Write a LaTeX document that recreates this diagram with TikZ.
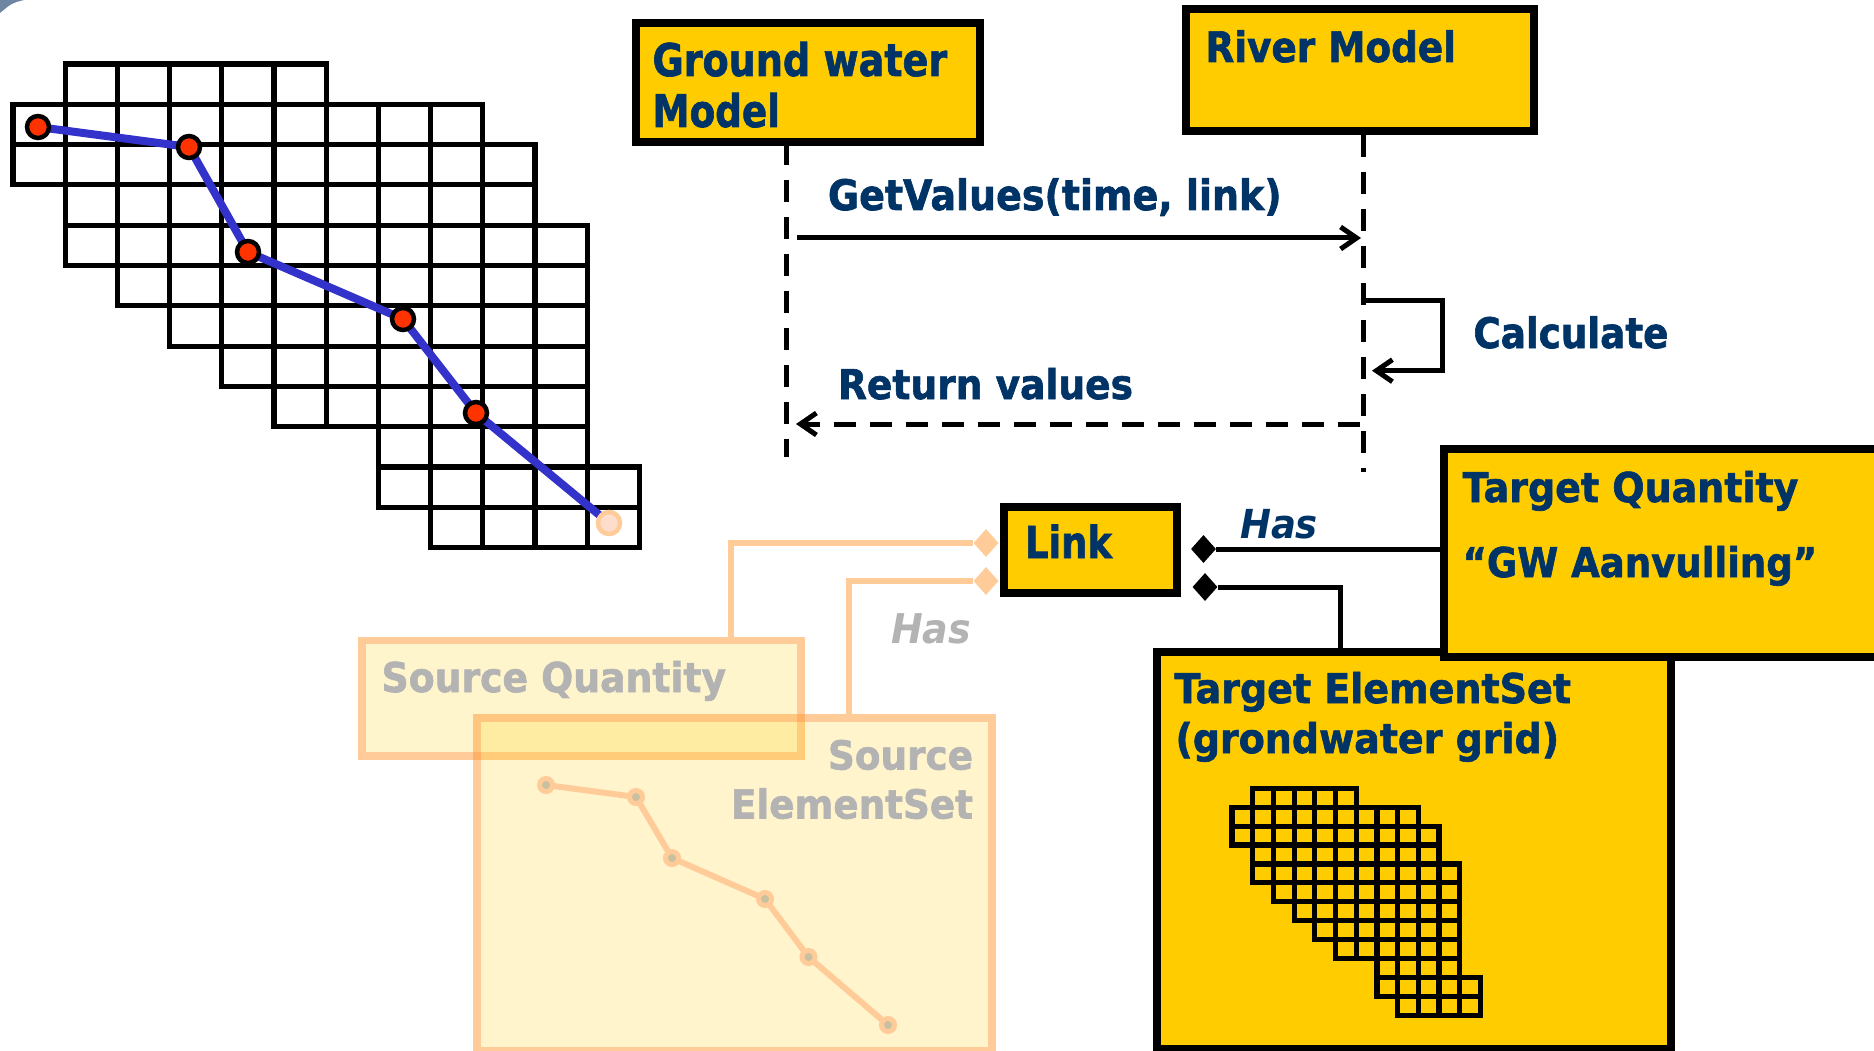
\documentclass[tikz,border=0pt]{standalone}
\usepackage{fontspec}
\setmainfont{DejaVu Sans}[BoldFeatures={FakeBold=1.6}]
\usepackage{graphicx}
\usetikzlibrary{shapes.geometric,arrows.meta,calc}
\definecolor{ybox}{HTML}{FFCC00}
\definecolor{navy}{HTML}{003366}
\definecolor{fadeor}{HTML}{FFCC99}
\definecolor{fadeorange}{HTML}{FF9933}
\definecolor{fadefill}{HTML}{FFF5CC}
\definecolor{fadetext}{HTML}{B3B3B3}
\definecolor{reddot}{HTML}{FF3300}
\definecolor{blueline}{HTML}{3333CC}
\definecolor{pinkdot}{HTML}{FFDDCC}
\definecolor{fadedot}{HTML}{C8C0A0}
\definecolor{smudge}{HTML}{6F86A3}
\newcommand{\fitw}[3]{\resizebox{#1pt}{\height}{\fontsize{#2pt}{#2pt}\selectfont\bfseries #3}}
\begin{document}
\begin{tikzpicture}[x=1pt,y=-1pt,
  box/.style={draw=black, line width=8pt, fill=ybox, inner sep=0pt, outer sep=0pt, anchor=north west, line join=miter},
  srcbox/.style={draw=fadeor, line width=7.5pt, fill=fadefill, inner sep=0pt, outer sep=0pt, anchor=north west},
  txt/.style={inner sep=0pt, outer sep=0pt, anchor=base west, text=navy},
  ftxt/.style={inner sep=0pt, outer sep=0pt, anchor=base west, text=fadetext},
  life/.style={line width=5pt, dash pattern=on 22pt off 15pt},
  msg/.style={line width=5pt, -{Straight Barb[length=16pt,width=22pt]}},
  conn/.style={line width=5pt, draw=black},
  fconn/.style={line width=6pt, draw=fadeor},
  bdia/.style={diamond, fill=black, inner sep=0pt, minimum width=25pt, minimum height=28pt},
  ldia/.style={diamond, fill=fadeor, inner sep=0pt, minimum width=25pt, minimum height=28pt},
  gridline/.style={draw=black, line width=5.2pt, line join=miter},
  sgridline/.style={draw=black, line width=5.2pt, line join=miter},
  rdot/.style={circle, draw=black, line width=4.5pt, fill=reddot, inner sep=0pt, minimum size=22pt},
  fdot/.style={circle, draw=fadeor, line width=5pt, fill=fadedot, inner sep=0pt, minimum size=13pt}
]
\clip (0,0) rectangle (1874,1051);
\fill[white] (0,0) rectangle (1874,1051);
\fill[smudge] (0,0) -- (24,0) .. controls (12,3) .. (0,13) -- cycle;

% ---------- big grid ----------
\foreach \r/\a/\b in {0/1/5,1/0/8,2/0/9,3/1/9,4/1/10,5/2/10,6/3/10,7/4/10,8/5/10,9/7/10,10/7/11,11/8/11}{
  \foreach \c in {\a,...,\b}{
    \draw[gridline] (13+\c*52.2, 64+\r*40.3) rectangle ++(52.2,40.3);
  }
}
\coordinate (p1) at (38,127);
\coordinate (p2) at (189,147);
\coordinate (p3) at (248,252);
\coordinate (p4) at (403,319);
\coordinate (p5) at (476,413);
\coordinate (p6) at (609,523);
\draw[blueline, line width=8pt] (p1) -- (p2) -- (p3) -- (p4) -- (p5) -- (p6);
\node[rdot] (d1) at (p1) {};
\node[rdot] (d2) at (p2) {};
\node[rdot] (d3) at (p3) {};
\node[rdot] (d4) at (p4) {};
\node[rdot] (d5) at (p5) {};
\node[rdot, draw=fadeor, fill=pinkdot] (d6) at (p6) {};

% ---------- faded source part ----------
\node[srcbox, minimum width=439pt, minimum height=115.5pt] (sq) at (362,640.5) {};
\node[inner sep=0pt, outer sep=0pt, anchor=north west, minimum width=515pt, minimum height=333pt] (se) at (477,718) {};
\fill[ybox, fill opacity=0.2] ($(se.north west)+(3.75,3.75)$) rectangle ($(se.south east)+(-3.75,-3.75)$);
\draw[fadeorange, draw opacity=0.5, line width=7.5pt] (se.north west) rectangle (se.south east);
\node[ftxt] (tsq) at (381.6,692) {\fitw{344.4}{41}{Source Quantity}};
\node[ftxt, anchor=base east] (tse1) at (973,769.5) {\fitw{145}{40}{Source}};
\node[ftxt, anchor=base east] (tse2) at (973,818.5) {\fitw{242}{40}{ElementSet}};
\coordinate (f1) at (546,785);
\coordinate (f2) at (636,797);
\coordinate (f3) at (672,858);
\coordinate (f4) at (765,899);
\coordinate (f5) at (808.5,957);
\coordinate (f6) at (888,1025);
\draw[fadeor, line width=6pt] (f1) -- (f2) -- (f3) -- (f4) -- (f5) -- (f6);
\foreach \k in {1,...,6}{ \node[fdot] (fd\k) at (f\k) {}; }
\node[ldia] (ld1) at (986,543) {};
\node[ldia] (ld2) at (986,581) {};
\draw[fconn] ([xshift=369pt]sq.north west) |- (ld1.west);
\draw[fconn] ([xshift=372pt]se.north west) |- (ld2.west);
\node[ftxt] (thas2) at (891,643.5) {\fitw{80}{41}{\itshape Has}};

% ---------- sequence part ----------
\coordinate (gwtop) at (786,143);
\coordinate (gwbot) at (786,457);
\coordinate (rvtop) at (1363,135);
\coordinate (rvbot) at (1363,472);
\draw[life] (gwtop) -- (gwbot);
\draw[life] (rvtop) -- (rvbot);
\node[box, minimum width=344pt, minimum height=119pt] (gw) at (636,23.5) {};
\node[box, minimum width=348pt, minimum height=122pt] (rv) at (1186,9) {};
\node[txt] (tgw1) at (652.5,76) {\fitw{294.7}{45}{Ground water}};
\node[txt] (tgw2) at (652.5,127) {\fitw{127.5}{45}{Model}};
\node[txt] (trv) at (1205.5,62) {\fitw{250.5}{42}{River Model}};

\coordinate (gvs) at (797,238);
\coordinate (gve) at (1361,238);
\draw[msg] (gvs) -- (gve);
\node[txt] (tgv) at (828,210) {\fitw{453.6}{42}{GetValues(time, link)}};

\coordinate (cal1) at (1365,300.5);
\coordinate (cal2) at (1442,370.7);
\coordinate (cal3) at (1372,370.7);
\draw[msg, line join=miter] (cal1) -| (cal2) -- (cal3);
\node[txt] (tcal) at (1473.4,348) {\fitw{195}{42}{Calculate}};

\coordinate (rvs) at (1359.5,424);
\coordinate (rve) at (796,424);
\draw[msg, dash pattern=on 22pt off 14pt] (rvs) -- (rve);
\node[txt] (tret) at (838,399) {\fitw{295}{41}{Return values}};

% ---------- link part ----------
\node[box, minimum width=173pt, minimum height=86.5pt] (lk) at (1004,506.5) {};
\node[txt] (tlk) at (1025,558) {\fitw{87}{44}{Link}};

\node[box, minimum width=514.5pt, minimum height=397pt] (te) at (1156.5,652) {};
\foreach \r/\a/\b in {0/1/5,1/0/8,2/0/9,3/1/9,4/1/10,5/2/10,6/3/10,7/4/10,8/5/10,9/7/10,10/7/11,11/8/11}{
  \foreach \c in {\a,...,\b}{
    \draw[sgridline] (1232+\c*20.7, 788.3+\r*18.9) rectangle ++(20.7,18.9);
  }
}
\node[txt] (tte1) at (1174.5,703) {\fitw{396.5}{41}{Target ElementSet}};
\node[txt] (tte2) at (1175.5,753) {\fitw{383.6}{41}{(grondwater grid)}};

\node[box, minimum width=460pt, minimum height=208.4pt] (tq) at (1444,449) {};
\node[txt] (ttq1) at (1462.6,502) {\fitw{335.8}{41}{Target Quantity}};
\node[txt] (ttq2) at (1462.6,577) {\fitw{354.5}{41}{“GW Aanvulling”}};

\node[bdia] (bd1) at (1203.5,549) {};
\node[bdia] (bd2) at (1205,587) {};
\draw[conn] (bd1.east) -- (bd1.east -| tq.west);
\draw[conn] (bd2.east) -| ([xshift=183.5pt]te.north west);
\node[txt] (thas1) at (1240,538) {\fitw{78}{40}{\itshape Has}};
\end{tikzpicture}
\end{document}
